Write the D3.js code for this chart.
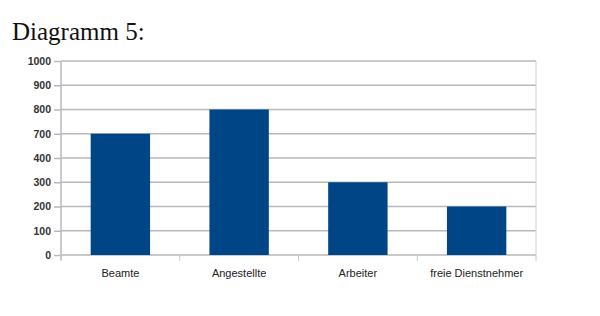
<!DOCTYPE html>
<html>
<head>
<meta charset="utf-8">
<script src="https://cdn.jsdelivr.net/npm/d3@7"></script>
<style>
  body { margin: 0; background: #fff; }
  svg { display: block; }
</style>
</head>
<body>
<div id="chart"></div>
<script>
"use strict";

//********************************* DATA *********************************
var categories = ["Beamte", "Angestellte", "Arbeiter", "freie Dienstnehmer"];
var values = [700, 800, 300, 200];
var tickValues = [0, 100, 200, 300, 400, 700, 800, 900, 1000];   // axis as printed in the picture (600/500 missing)

//********************************* LAYOUT *********************************
var width = 600, height = 316;
var plot = { left: 61, right: 536, top: 61, bottom: 255 };

var svg = d3.select("#chart").append("svg")
	.attr("width", width)
	.attr("height", height);

// title
svg.append("text")
	.attr("x", 12)
	.attr("y", 40)
	.attr("font-family", "Liberation Serif, Times New Roman, serif")
	.attr("font-size", 25)
	.attr("fill", "#111")
	.text("Diagramm 5:");

// x scale: one band per category
var x = d3.scaleBand()
	.domain(categories)
	.range([plot.left, plot.right])
	.paddingInner(0.5)
	.paddingOuter(0.25);

// y scale: evenly spaced ticks, piecewise so the labels sit as in the picture
var step = (plot.bottom - plot.top) / (tickValues.length - 1);
var y = d3.scaleLinear()
	.domain(tickValues)
	.range(tickValues.map(function(d, i){ return plot.bottom - i * step; }));

// horizontal grid lines
svg.append("g").selectAll("line")
	.data(tickValues)
	.enter()
		.append("line")
		.attr("x1", plot.left)
		.attr("x2", plot.right)
		.attr("y1", function(d){ return y(d); })
		.attr("y2", function(d){ return y(d); })
		.attr("stroke", "#b8b8b8")
		.attr("stroke-width", 1.5);

// right border of plot area
svg.append("line")
	.attr("x1", plot.right).attr("x2", plot.right)
	.attr("y1", plot.top).attr("y2", plot.bottom)
	.attr("stroke", "#d0d0d0")
	.attr("stroke-width", 1);

// bars
svg.append("g").selectAll("rect")
	.data(values)
	.enter()
		.append("rect")
		.attr("x", function(d, i){ return x(categories[i]); })
		.attr("width", x.bandwidth())
		.attr("y", function(d){ return y(d); })
		.attr("height", function(d){ return plot.bottom - y(d); })
		.attr("fill", "#004586");

// y axis
var yAxis = d3.axisLeft(y)
	.tickValues(tickValues)
	.tickSize(7)
	.tickPadding(3)
	.tickFormat(d3.format("d"));

var gy = svg.append("g")
	.attr("transform", "translate(" + plot.left + ",0)")
	.call(yAxis);
gy.select(".domain").attr("d", "M0," + (plot.top) + "V" + (plot.bottom + 5));

// x axis: separators between categories instead of centered ticks
var gx = svg.append("g")
	.attr("transform", "translate(0," + plot.bottom + ")")
	.call(d3.axisBottom(x).tickSize(0).tickPadding(14));
gx.select(".domain").remove();

var bandStep = x.step();
gx.selectAll(".sep")
	.data(d3.range(categories.length + 1))
	.enter()
		.append("line")
		.attr("class", "sep")
		.attr("x1", function(i){ return plot.left + i * bandStep; })
		.attr("x2", function(i){ return plot.left + i * bandStep; })
		.attr("y1", 0)
		.attr("y2", 6)
		.attr("stroke", "#c8c8c8");

// axis styling
svg.selectAll(".tick line").attr("stroke", "#b8b8b8").attr("stroke-width", 1.5);
gy.select(".domain").attr("stroke", "#b8b8b8").attr("stroke-width", 1.5);
svg.selectAll(".tick text")
	.attr("font-family", "Liberation Sans, Arial, sans-serif")
	.attr("font-size", 11)
	.attr("fill", "#222");
gy.selectAll(".tick text").attr("font-size", 10.5).attr("font-weight", "bold").attr("fill", "#333");
</script>
</body>
</html>
